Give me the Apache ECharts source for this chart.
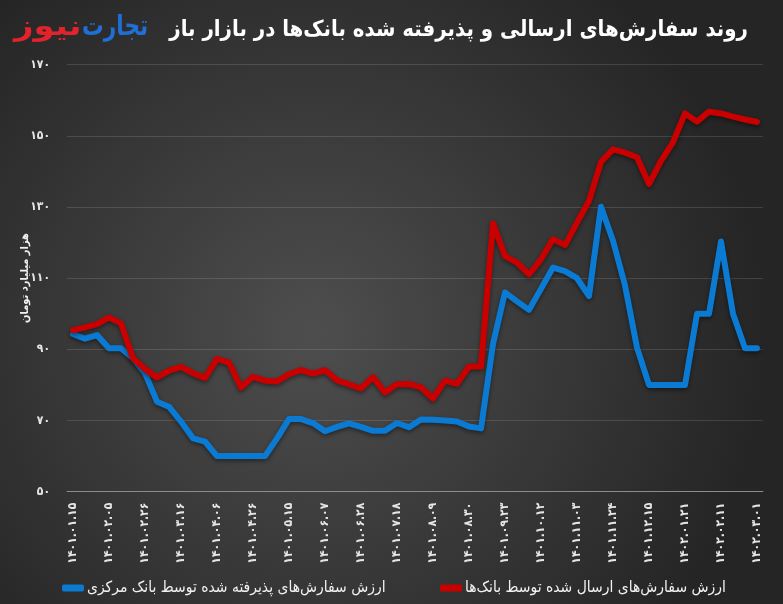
<!DOCTYPE html>
<html><head><meta charset="utf-8">
<script src="https://cdn.jsdelivr.net/npm/echarts@6/dist/echarts.min.js"></script>
<style>html,body{margin:0;padding:0;background:#333}#c{width:783px;height:604px}</style>
</head><body><div id="c"></div>
<script>
const tickLabels = ['۱۴۰۱.۰۱.۱۵','۱۴۰۱.۰۲.۰۵','۱۴۰۱.۰۲.۲۶','۱۴۰۱.۰۳.۱۶','۱۴۰۱.۰۴.۰۶','۱۴۰۱.۰۴.۲۶','۱۴۰۱.۰۵.۱۵','۱۴۰۱.۰۶.۰۷','۱۴۰۱.۰۶.۲۸','۱۴۰۱.۰۷.۱۸','۱۴۰۱.۰۸.۰۹','۱۴۰۱.۰۸.۳۰','۱۴۰۱.۰۹.۲۳','۱۴۰۱.۱۰.۱۲','۱۴۰۱.۱۱.۰۳','۱۴۰۱.۱۱.۲۴','۱۴۰۱.۱۲.۱۵','۱۴۰۲.۰۱.۲۱','۱۴۰۲.۰۲.۱۱','۱۴۰۲.۰۳.۰۱'];
const sentByBanks = [95.4,96.2,97.1,99.0,97.3,87.5,84.5,82.1,84.0,85.1,83.3,82.0,87.3,86.3,79.3,82.3,81.2,81.0,83.0,84.2,83.2,84.2,81.3,80.2,79.0,82.2,77.9,80.2,80.3,79.3,76.2,81.2,80.3,85.2,85.2,125.4,116.2,114.4,111.1,115.3,121.0,119.3,125.6,131.7,142.7,146.2,145.3,144.0,136.5,143.0,148.2,156.3,154.0,156.8,156.3,155.4,154.6,153.9];
const acceptedByCB = [94.3,93.0,94.0,90.3,90.3,87.5,83.3,75.3,73.9,69.7,65.0,64.1,60,60,60,60,60,65.0,70.4,70.4,69.3,67.0,68.2,69.2,68.2,67.1,67.1,69.3,68.1,70.3,70.2,70.0,69.7,68.3,67.8,91.5,106.0,103.5,101.1,107.0,113.0,112.0,110.0,105.0,130.1,120.5,108.0,90.5,80,80,80,80,100,100,120.3,100,90.3,90.3];
const sentName = 'ارزش سفارش‌های ارسال شده توسط بانک‌ها';
const acceptedName = 'ارزش سفارش‌های پذیرفته شده توسط بانک مرکزی';
const titleText = 'روند سفارش‌های ارسالی و پذیرفته شده بانک‌ها در بازار باز';
const yAxisTitle = 'هزار میلیارد تومان';

// every third weekly point carries a date label
const categories = [];
for (let i = 0; i < sentByBanks.length; i++) {
  categories.push(i % 3 === 0 ? tickLabels[i / 3] : '');
}
const faDigits = s => String(s).replace(/\d/g, d => '۰۱۲۳۴۵۶۷۸۹'[d]);
const FONT = '"DejaVu Sans Condensed","DejaVu Sans",sans-serif';

const chart = echarts.init(document.getElementById('c'));
chart.setOption({
  backgroundColor: new echarts.graphic.RadialGradient(0.4, 0.55, 0.75, [
    {offset: 0, color: '#4e4e4e'}, {offset: 1, color: '#252525'}
  ]),
  animation: false,
  textStyle: {fontFamily: FONT},
  grid: {left: 67, right: 20, top: 64.7, bottom: 112.3, containLabel: false},
  legend: [
    {left: 57, top: 575, itemWidth: 22, itemHeight: 7, icon: 'roundRect', itemGap: 4, data: [acceptedName],
     textStyle: {color: '#f2f2f2', fontSize: 15.5, fontFamily: FONT, padding: [0, 0, 0, -2]}},
    {left: 435, top: 575, itemWidth: 22, itemHeight: 7, icon: 'roundRect', data: [sentName],
     textStyle: {color: '#f2f2f2', fontSize: 15.5, fontFamily: FONT, padding: [0, 0, 0, -2]}}
  ],
  xAxis: {
    type: 'category', data: categories, boundaryGap: true,
    axisLine: {lineStyle: {color: '#8c8c8c', width: 1}},
    axisTick: {show: false},
    axisLabel: {interval: 0, rotate: 90, color: '#e6e6e6', fontSize: 12, fontWeight: 'bold', margin: 11, fontFamily: FONT}
  },
  yAxis: {
    type: 'value', min: 50, max: 170, interval: 20,
    axisLine: {show: false}, axisTick: {show: false},
    splitLine: {lineStyle: {color: 'rgba(255,255,255,0.13)', width: 1}},
    axisLabel: {color: '#e6e6e6', fontSize: 12, fontWeight: 'bold', margin: 17, formatter: v => faDigits(v), fontFamily: FONT}
  },
  graphic: [
    {type: 'text', right: 35, top: 19, style: {text: titleText, fill: '#ffffff', font: 'bold 22px ' + FONT}},
    {type: 'text', x: 82, y: 14, scaleX: 0.86, style: {text: 'تجارت', fill: '#1f6fd6', font: 'bold 28px ' + FONT}},
    {type: 'text', x: 14, y: 14, scaleX: 1.35, style: {text: 'نیوز', fill: '#e3232c', font: 'bold 28px ' + FONT}},
    {type: 'text', x: 25, y: 278, rotation: Math.PI / 2,
     style: {text: yAxisTitle, fill: '#f0f0f0', font: 'bold 11px ' + FONT, align: 'center', verticalAlign: 'middle'}}
  ],
  series: [
    {name: acceptedName, type: 'line', data: acceptedByCB, symbol: 'none', z: 2,
     itemStyle: {color: '#0a7ad2'},
     lineStyle: {color: '#0a7ad2', width: 6, cap: 'round', join: 'round',
       shadowColor: 'rgba(0,0,0,0.45)', shadowBlur: 4, shadowOffsetY: 2}},
    {name: sentName, type: 'line', data: sentByBanks, symbol: 'none', z: 3,
     itemStyle: {color: '#c90000'},
     lineStyle: {color: '#c90000', width: 6, cap: 'round', join: 'round',
       shadowColor: 'rgba(0,0,0,0.45)', shadowBlur: 4, shadowOffsetY: 2}}
  ]
});
</script></body></html>
